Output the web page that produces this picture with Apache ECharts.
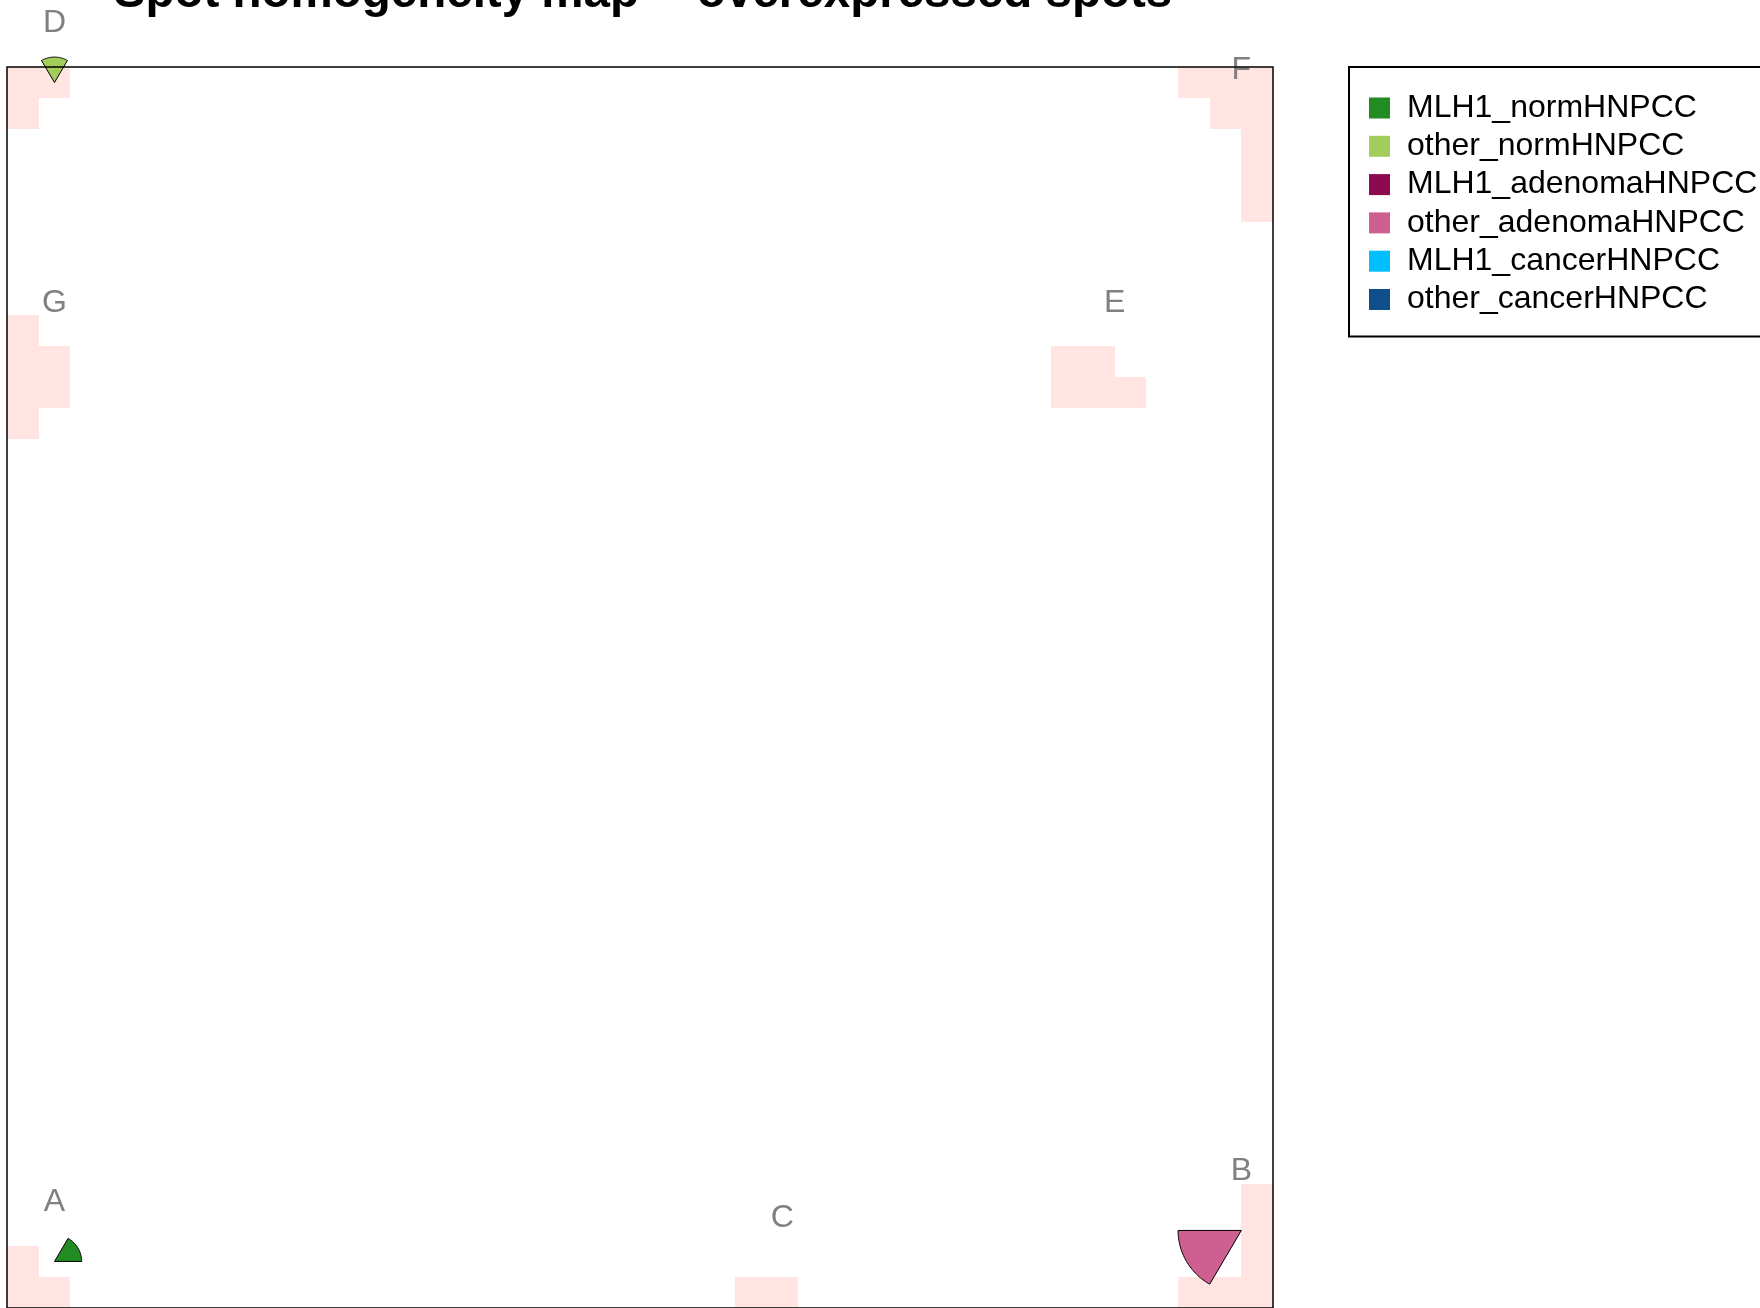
<!DOCTYPE html>
<html><head><meta charset="utf-8">
<script src="https://cdn.jsdelivr.net/npm/echarts@6/dist/echarts.min.js"></script>
<style>html,body{margin:0;padding:0;background:#fff}#c{width:1760px;height:1308px}</style>
</head><body><div id="c"></div>
<script>
const groups = ['MLH1_normHNPCC','other_normHNPCC','MLH1_adenomaHNPCC','other_adenomaHNPCC','MLH1_cancerHNPCC','other_cancerHNPCC'];
const groupColors = ['#228B22','#A2CD5A','#8B0A50','#CD6090','#00BFFF','#104E8B'];

// spots A..G : label and centre (map coordinates, 1..40)
const spotNames = ['A','B','C','D','E','F','G'];
const spotX = [2, 39.5, 25, 2, 35.5, 39.5, 2];
const spotY = [2, 3, 1.5, 40, 31, 38.5, 31];

// fraction of samples of each group in which the spot is overexpressed (order A..G)
const fracMLH1_norm     = [0.43, 0, 0, 0,    0, 0, 0];
const fracOther_norm    = [0,    0, 0, 0.41, 0, 0, 0];
const fracMLH1_adenoma  = [0,    0, 0, 0,    0, 0, 0];
const fracOther_adenoma = [0,    1, 0, 0,    0, 0, 0];
const fracMLH1_cancer   = [0,    0, 0, 0,    0, 0, 0];
const fracOther_cancer  = [0,    0, 0, 0,    0, 0, 0];
const groupFractions = [fracMLH1_norm, fracOther_norm, fracMLH1_adenoma, fracOther_adenoma, fracMLH1_cancer, fracOther_cancer];

// overexpressed metagene cells (column from left, row from bottom)
const cellX = [1,1,2, 38,39,40,39,40,40,40,40, 1,1,1,1,2,2, 34,35,34,35,36, 1,1,2, 24,25, 40,40,40,40,38,39];
const cellY = [40,39,40, 40,40,40,39,39,38,37,36, 32,31,30,29,31,30, 31,31,30,30,30, 2,1,1, 1,1, 4,3,2,1,1,1];

const title = 'Spot homogeneity map -- overexpressed spots';
const mapSize = 40;
const maxRadius = 2;

const chart = echarts.init(document.getElementById('c'), null, {renderer:'canvas'});

const cellData = cellX.map((x,i)=>[x, cellY[i]]);
const spotData = spotNames.map((n,i)=>[spotX[i], spotY[i], n]);

function cellRender(params, api){
  const x = api.value(0), y = api.value(1);
  const p0 = api.coord([x-0.5, y+0.5]);
  const p1 = api.coord([x+0.5, y-0.5]);
  const x0 = Math.round(p0[0]), y0 = Math.round(p0[1]);
  const x1 = Math.round(p1[0]), y1 = Math.round(p1[1]);
  return {type:'rect', shape:{x:x0, y:y0, width:x1-x0, height:y1-y0}, style:{fill:'#FFE4E1'}};
}

function makePieRender(k, color){
  return function(params, api){
    const cx = api.value(0), cy = api.value(1), f = api.value(2);
    if (!f) return null;
    const r = f * maxRadius;
    const a0 = k*Math.PI/3, a1 = (k+1)*Math.PI/3;
    const pts = [api.coord([cx, cy])];
    const n = 40;
    for (let i=0;i<=n;i++){
      const a = a0 + (a1-a0)*i/n;
      pts.push(api.coord([cx + r*Math.cos(a), cy + r*Math.sin(a)]));
    }
    return {type:'polygon', shape:{points:pts}, style:{fill:color, stroke:'#000', lineWidth:1}};
  };
}

const series = [{
  type:'custom', name:'cells', coordinateSystem:'cartesian2d', clip:false, silent:true,
  renderItem: cellRender, data: cellData, z:1
},{
  type:'custom', name:'labels', coordinateSystem:'cartesian2d', clip:false, silent:true,
  renderItem: function(params, api){
    const p = api.coord([api.value(0), api.value(1)+2]);
    return {type:'text', style:{text: spotNames[params.dataIndex], x:p[0], y:p[1]+3, fill:'#808080',
      font:'32px "Liberation Sans", Arial, sans-serif', align:'center', verticalAlign:'middle'}};
  },
  data: spotData, z:3
}];
groups.forEach((g,k)=>{
  series.push({
    type:'custom', name:g, coordinateSystem:'cartesian2d', clip:false, silent:true,
    itemStyle:{color:groupColors[k]},
    renderItem: makePieRender(k, groupColors[k]),
    data: spotNames.map((n,i)=>[spotX[i], spotY[i], groupFractions[k][i]]),
    z:4
  });
});

chart.setOption({
  animation:false,
  backgroundColor:'#fff',
  title:{text:title, left:638, textAlign:'center', top:-35.5,
    textStyle:{fontFamily:'"Liberation Sans", Arial, sans-serif', fontWeight:'bold', fontSize:47.5, color:'#000'}},
  grid:{left:7, top:67, width:1266, height:1241, show:true, borderColor:'#000', borderWidth:1.5, backgroundColor:'transparent', z:5},
  xAxis:{type:'value', min:0.5, max:mapSize+0.5, show:false},
  yAxis:{type:'value', min:0.5, max:mapSize+0.5, show:false},
  legend:{orient:'vertical', left:1349, top:67, data:groups, icon:'rect', itemWidth:21, itemHeight:21, itemGap:2.3,
    padding:[23,30,19,20], borderColor:'#000', borderWidth:2, selectedMode:false,
    itemStyle:{borderWidth:0},
    textStyle:{fontSize:32, fontFamily:'"Liberation Sans", Arial, sans-serif', color:'#000', lineHeight:36, padding:[0,0,0,12]}},
  series: series
});
</script></body></html>
